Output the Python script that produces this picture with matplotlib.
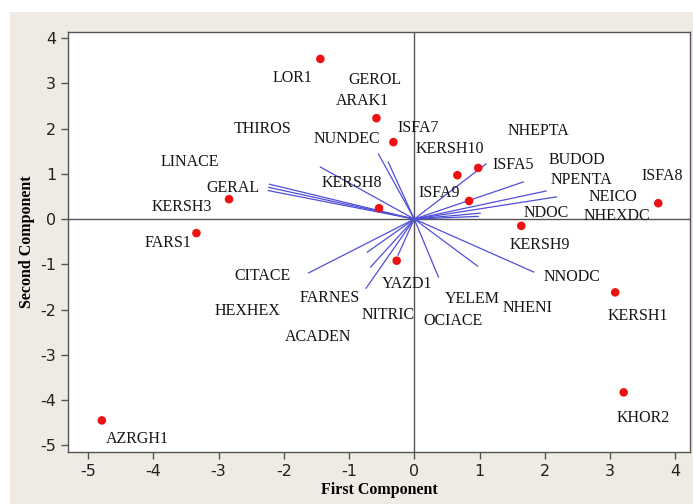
import matplotlib
matplotlib.use('Agg')
import matplotlib.pyplot as plt
from matplotlib.patches import Rectangle

plt.rcParams['axes.unicode_minus'] = False

# sample scores (red dots)
sample_x = [-1.44, -0.58, -0.32, 0.66, 0.98, 0.84, 3.74, -0.54, -2.84, -3.34,
            -0.27, 1.64, 3.08, 3.21, -4.79]
sample_y = [3.54, 2.23, 1.70, 0.97, 1.13, 0.40, 0.35, 0.24, 0.44, -0.31,
            -0.92, -0.15, -1.62, -3.83, -4.45]

# loading vectors (end points, drawn from origin)
vec_x = [-1.44, -2.22, -2.23, -2.24, -0.55, -0.40,
         1.10, 1.67, 2.02, 2.18, 1.01, 0.98,
         0.37, 0.97, 1.83,
         -1.62, -0.72, -0.67, -0.74, -0.25]
vec_y = [1.15, 0.77, 0.70, 0.63, 1.44, 1.26,
         1.22, 0.82, 0.62, 0.49, 0.13, 0.06,
         -1.28, -1.04, -1.17,
         -1.19, -0.73, -1.06, -1.53, -0.80]

# text labels and where they sit
labels = ['LOR1', 'GEROL', 'ARAK1', 'THIROS', 'NUNDEC', 'ISFA7', 'NHEPTA',
          'KERSH10', 'ISFA5', 'BUDOD', 'NPENTA', 'ISFA8', 'NEICO', 'NHEXDC',
          'NDOC', 'ISFA9', 'KERSH8', 'LINACE', 'GERAL', 'KERSH3', 'FARS1',
          'CITACE', 'HEXHEX', 'FARNES', 'ACADEN', 'NITRIC', 'YAZD1', 'YELEM',
          'OCIACE', 'NHENI', 'NNODC', 'KERSH9', 'KERSH1', 'KHOR2', 'AZRGH1']
label_x = [-1.86, -0.60, -0.80, -2.33, -1.03, 0.06, 1.90,
           0.55, 1.52, 2.50, 2.56, 3.80, 3.05, 3.10,
           2.02, 0.38, -0.95, -3.44, -2.78, -3.57, -3.77,
           -2.32, -2.56, -1.29, -1.47, -0.40, -0.11, 0.89,
           0.60, 1.73, 2.42, 1.93, 3.42, 3.51, -4.25]
label_y = [3.12, 3.08, 2.61, 1.99, 1.77, 2.01, 1.95,
           1.55, 1.19, 1.31, 0.86, 0.95, 0.49, 0.07,
           0.13, 0.58, 0.80, 1.26, 0.69, 0.27, -0.53,
           -1.26, -2.04, -1.75, -2.61, -2.12, -1.44, -1.77,
           -2.26, -1.97, -1.28, -0.58, -2.15, -4.40, -4.85]

x_ticks = [-5, -4, -3, -2, -1, 0, 1, 2, 3, 4]
y_ticks = [-5, -4, -3, -2, -1, 0, 1, 2, 3, 4]

fig = plt.figure(figsize=(6.93, 5.04), dpi=100)
fig.patch.set_facecolor('white')
# beige panel behind the plot
fig.add_artist(Rectangle((10 / 693, 0), 1 - 10 / 693, (504 - 12) / 504,
                         transform=fig.transFigure, facecolor='#efebe4',
                         edgecolor='none', zorder=-5))

ax = fig.add_axes([0.098, 0.103, 0.898, 0.834])
ax.set_facecolor('white')

ax.axhline(0, color='#555555', lw=1.0, zorder=1)
ax.axvline(0, color='#555555', lw=1.0, zorder=1)

for vx, vy in zip(vec_x, vec_y):
    ax.plot([0, vx], [0, vy], color='#4f4fd8', lw=0.9, zorder=2)

ax.scatter(sample_x, sample_y, s=38, color='#ee1111', edgecolors='none', zorder=3)

for t, lx, ly in zip(labels, label_x, label_y):
    ax.text(lx, ly, t, ha='center', va='center', fontsize=11.5,
            family='Liberation Serif', color='#151515', zorder=4)

ax.set_xlim(-5.31, 4.23)
ax.set_ylim(-5.15, 4.14)
ax.set_xticks(x_ticks)
ax.set_yticks(y_ticks)
ax.tick_params(direction='out', length=5, width=1, color='#555555',
               labelsize=11.5, labelcolor='#222222')
for sp in ax.spines.values():
    sp.set_color('#555555')
    sp.set_linewidth(1.0)

ax.set_xlabel('First Component', family='Liberation Serif', fontweight='bold',
              fontsize=11.5, labelpad=2)
ax.set_ylabel('Second Component', family='Liberation Serif', fontweight='bold',
              fontsize=11.5, labelpad=4)

fig.savefig('out.png', dpi=100)
